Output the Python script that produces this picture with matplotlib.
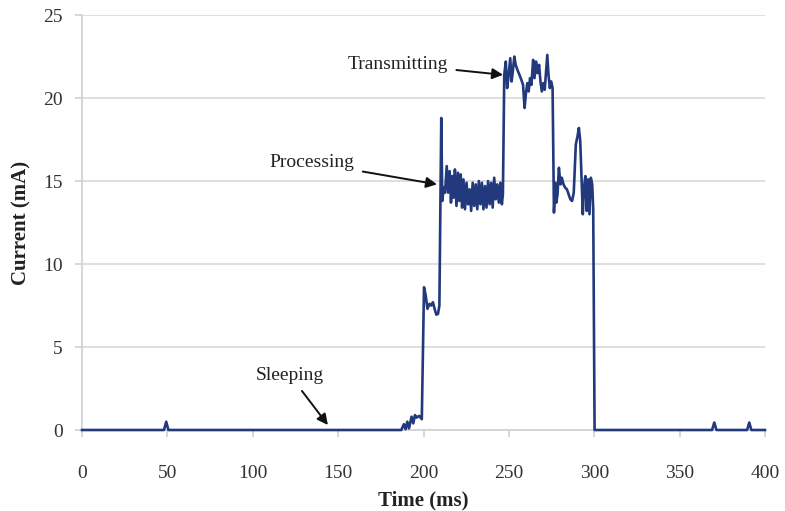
import matplotlib.pyplot as plt

# Supply current trace of the node over one duty cycle
time_ms = [
    0, 48, 49.3, 50.6, 187, 188.5, 189.5, 190.5, 191.5, 193, 194, 195, 196, 197.5, 199,
    200.3, 201.3, 202.3, 203.5, 204.5, 205.5, 206.5, 207.5, 208.5, 209.3,
    210.4, 211.0, 211.8, 212.6, 213.6, 214.4, 215.3, 216.1, 216.8, 217.6, 218.4, 219.3,
    220.2, 221.0, 221.8, 222.6, 223.4, 224.3, 225.2, 226.1, 227.0, 227.9, 228.8, 229.7,
    230.6, 231.5, 232.4, 233.3, 234.2, 235.1, 236.0, 236.9, 237.8, 238.7, 239.6, 240.5,
    241.4, 242.3, 243.2, 244.1, 245.0, 245.9, 246.5,
    247.3, 248.2, 249.0, 249.8, 250.8, 251.6, 252.3, 253.2, 254.0, 255.0, 256.2, 257.3,
    258.3, 259.2, 260.0, 260.8, 261.6, 262.4, 263.2, 264.2, 265.0, 265.9, 266.8, 267.7,
    268.5, 269.3, 270.2, 271.0, 271.8, 272.5, 273.2, 274.0, 274.8, 275.6,
    276.4, 277.2, 277.8, 278.5, 279.3, 280.2, 281.0, 282.0, 283.0, 284.0, 285.0, 286.0,
    287.0, 288.0, 289.2, 290.2, 291.0, 291.8, 292.6, 293.3, 294.0, 294.8, 295.6, 296.4,
    297.2, 298.0, 298.8, 299.4, 300.2,
    369, 370.3, 371.6, 389.5, 390.8, 392, 400,
]
current_ma = [
    0, 0, 0.5, 0, 0, 0.35, 0.05, 0.5, 0.1, 0.8, 0.4, 0.9, 0.75, 0.85, 0.65,
    8.6, 8.1, 7.3, 7.6, 7.5, 7.7, 7.3, 6.95, 7.0, 7.5,
    18.8, 13.8, 14.6, 14.3, 15.9, 14.3, 15.6, 13.7, 15.3, 14.0, 15.7, 13.5,
    15.5, 13.8, 15.4, 13.4, 15.1, 13.3, 14.9, 13.6, 14.5, 13.2, 14.9, 13.5,
    14.8, 13.3, 15.0, 13.6, 14.9, 13.3, 14.7, 13.4, 15.0, 13.6, 14.9, 13.4,
    15.2, 13.9, 14.8, 13.7, 14.9, 13.6, 14.2,
    21.4, 22.2, 20.6, 21.3, 22.4, 21.0, 21.6, 22.5, 22.0, 21.7, 21.4, 21.1,
    20.8, 19.4, 20.3, 20.9, 20.4, 21.2, 20.8, 22.3, 21.2, 22.2, 21.5, 22.0,
    21.0, 20.4, 20.9, 20.5, 21.6, 22.6, 21.4, 20.6, 21.0, 20.6,
    13.1, 14.9, 13.7, 14.2, 15.8, 14.8, 15.2, 14.8, 14.6, 14.5, 14.2, 13.9,
    13.8, 14.3, 17.2, 17.7, 18.2, 17.4, 15.0, 13.0, 14.6, 15.3, 13.2, 15.1,
    13.0, 15.2, 14.8, 13.3, 0,
    0, 0.45, 0, 0, 0.45, 0, 0,
]

# state labels: (text, text position, arrow tip)
state_labels = ["Transmitting", "Processing", "Sleeping"]
label_xy = [(185, 22.05), (134.7, 16.1), (121.8, 3.3)]
arrow_xy = [(246.6, 21.4), (207.9, 14.8), (144, 0.3)]

x_ticks = [0, 50, 100, 150, 200, 250, 300, 350, 400]
y_ticks = [0, 5, 10, 15, 20, 25]

plt.rcParams['font.family'] = ['Liberation Serif', 'DejaVu Serif']

fig = plt.figure(figsize=(7.85, 5.11), dpi=100)
ax = fig.add_axes([0.1045, 0.1585, 0.870, 0.812])

ax.plot(time_ms, current_ma, color='#22397d', lw=1.9, clip_on=False, zorder=3)

ax.set_xlim(0, 400)
ax.set_ylim(0, 25)
ax.set_xticks(x_ticks)
ax.set_yticks(y_ticks)
ax.grid(axis='y', color='#d9d9d9', lw=1.2)
ax.set_axisbelow(True)

for side in ('top', 'right'):
    ax.spines[side].set_visible(False)
for side in ('left', 'bottom'):
    ax.spines[side].set_color('#d0d0d0')
    ax.spines[side].set_linewidth(1.2)

ax.tick_params(axis='both', colors='#d0d0d0', labelcolor='#333333', labelsize=14,
               length=5, width=1.2)
ax.tick_params(axis='x', pad=20)
ax.tick_params(axis='y', pad=9)

ax.set_xlabel('Time (ms)', fontsize=15, fontweight='bold', color='#222222', labelpad=6)
ax.set_ylabel('Current (mA)', fontsize=15, fontweight='bold', color='#222222', labelpad=8)

for text, txy, axy in zip(state_labels, label_xy, arrow_xy):
    ax.annotate(text, xy=axy, xytext=txy, ha='center', va='center', fontsize=14,
                color='#222222',
                arrowprops=dict(arrowstyle='-|>', color='#111111', lw=1.4,
                                mutation_scale=16, shrinkA=4, shrinkB=0))

fig.savefig('out.png', dpi=100)
